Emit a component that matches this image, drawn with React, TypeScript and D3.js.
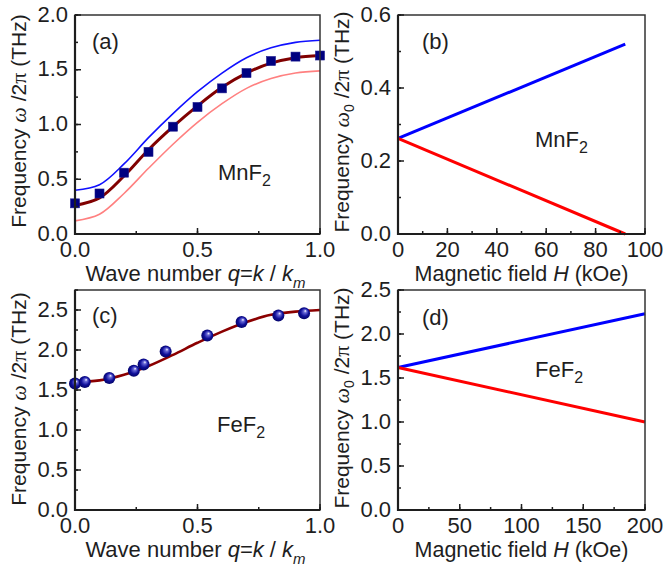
import * as d3 from "d3";

// panel (a): MnF2 dispersion
const qA = [0, 0.1, 0.2, 0.3, 0.4, 0.5, 0.6, 0.7, 0.8, 0.9, 1.0];
const mnMeasured = [0.28, 0.37, 0.56, 0.75, 0.98, 1.16, 1.33, 1.47, 1.58, 1.62, 1.63];
const mnFit = [0.26, 0.33, 0.53, 0.77, 0.98, 1.17, 1.34, 1.47, 1.56, 1.61, 1.63];
const mnUpper = [0.4, 0.45, 0.64, 0.88, 1.1, 1.3, 1.47, 1.61, 1.7, 1.75, 1.77];
const mnLower = [0.12, 0.18, 0.37, 0.6, 0.82, 1.02, 1.19, 1.33, 1.42, 1.47, 1.49];

// panel (b): MnF2 field splitting
const hB = [0, 92];
const mnPlus = [0.262, 0.52];
const mnMinus = [0.262, 0.0];

// panel (c): FeF2 dispersion
const qC = [0.0, 0.04, 0.14, 0.24, 0.28, 0.37, 0.54, 0.68, 0.83, 0.935];
const feMeasured = [1.58, 1.6, 1.65, 1.74, 1.82, 1.98, 2.18, 2.35, 2.43, 2.46];
const qFit = [0, 0.1, 0.2, 0.3, 0.4, 0.5, 0.6, 0.7, 0.8, 0.9, 1.0];
const feFit = [1.6, 1.62, 1.69, 1.8, 1.94, 2.09, 2.23, 2.35, 2.44, 2.48, 2.5];

// panel (d): FeF2 field splitting
const hD = [0, 200];
const fePlus = [1.62, 2.23];
const feMinus = [1.62, 1.0];

const FONT = "Liberation Sans, Arial, sans-serif";
const SERIF = "Liberation Serif, serif";
const INK = "#1e1e1e";

type Frame = { left: number; right: number; top: number; bottom: number };

function range(a: number, b: number, s: number) {
  const out: number[] = [];
  for (let v = a; v <= b + 1e-9; v += s) out.push(+v.toFixed(6));
  return out;
}

function Axes({
  f, x, y, xMajor, xMinor, yMajor, yMinor, xFmt, yFmt,
}: {
  f: Frame;
  x: d3.ScaleLinear<number, number>;
  y: d3.ScaleLinear<number, number>;
  xMajor: number[]; xMinor: number[]; yMajor: number[]; yMinor: number[];
  xFmt: (v: number) => string; yFmt: (v: number) => string;
}) {
  return (
    <g>
      <rect x={f.left} y={f.top} width={f.right - f.left} height={f.bottom - f.top}
        fill="none" stroke="#333" strokeWidth={1.5} />
      {xMinor.map((v) => (
        <line key={"xm" + v} x1={x(v)} x2={x(v)} y1={f.bottom} y2={f.bottom - 3} stroke={INK} strokeWidth={1.5} />
      ))}
      {xMajor.map((v) => (
        <line key={"xM" + v} x1={x(v)} x2={x(v)} y1={f.bottom} y2={f.bottom - 6} stroke={INK} strokeWidth={1.5} />
      ))}
      {yMinor.map((v) => (
        <line key={"ym" + v} x1={f.left} x2={f.left + 3} y1={y(v)} y2={y(v)} stroke={INK} strokeWidth={1.5} />
      ))}
      {yMajor.map((v) => (
        <line key={"yM" + v} x1={f.left} x2={f.left + 6} y1={y(v)} y2={y(v)} stroke={INK} strokeWidth={1.5} />
      ))}
      <line x1={f.left} x2={f.left} y1={f.top} y2={f.bottom + 1} stroke={INK} strokeWidth={2.2} />
      <line x1={f.left - 1} x2={f.right} y1={f.bottom} y2={f.bottom} stroke={INK} strokeWidth={2.2} />
      {xMajor.map((v) => (
        <text key={"xl" + v} x={x(v)} y={f.bottom + 23} textAnchor="middle" fontSize={22} fill={INK}>
          {xFmt(v)}
        </text>
      ))}
      {yMajor.map((v) => (
        <text key={"yl" + v} x={f.left - 7} y={y(v) + 6.5} textAnchor="end" fontSize={22} fill={INK}>
          {yFmt(v)}
        </text>
      ))}
    </g>
  );
}

const fmt1 = d3.format(".1f");
const fmt0 = d3.format("d");

function QTitle({ cx, y }: { cx: number; y: number }) {
  return (
    <text x={cx} y={y} textAnchor="middle" fontSize={22} fill={INK} style={{ whiteSpace: "pre" }}>
      {"Wave number "}<tspan fontStyle="italic">q</tspan>{"="}<tspan fontStyle="italic">k</tspan>{" / "}<tspan fontStyle="italic">k</tspan>
      <tspan fontStyle="italic" fontSize={15} dy={7}>m</tspan>
    </text>
  );
}

function HTitle({ cx, y }: { cx: number; y: number }) {
  return (
    <text x={cx} y={y} textAnchor="middle" fontSize={21.5} fill={INK}>
      Magnetic field <tspan fontStyle="italic">H</tspan> (kOe)
    </text>
  );
}

function FreqTitle({ x, cy, sub }: { x: number; cy: number; sub: boolean }) {
  return (
    <text transform={`translate(${x},${cy}) rotate(-90)`} textAnchor="middle" fontSize={21} fill={INK}>
      Frequency <tspan fontFamily={SERIF} fontStyle="italic" fontSize={22}>ω</tspan>
      {sub ? <tspan fontSize={14} dy={5}>0</tspan> : null}
      <tspan dy={sub ? -5 : 0}> /2</tspan>
      <tspan fontFamily={SERIF} fontSize={22}>π</tspan> (THz)
    </text>
  );
}

function Compound({ x, y, name }: { x: number; y: number; name: string }) {
  return (
    <text x={x} y={y} fontSize={22} fill={INK}>
      {name}
      <tspan fontSize={16} dy={6}>2</tspan>
    </text>
  );
}

export default function App() {
  const fA: Frame = { left: 75, right: 320, top: 15, bottom: 234 };
  const fB: Frame = { left: 398, right: 645, top: 15, bottom: 234 };
  const fC: Frame = { left: 75, right: 320, top: 290, bottom: 510 };
  const fD: Frame = { left: 398, right: 645, top: 290, bottom: 510 };

  const xA = d3.scaleLinear().domain([0, 1]).range([fA.left, fA.right]);
  const yA = d3.scaleLinear().domain([0, 2]).range([fA.bottom, fA.top]);
  const xB = d3.scaleLinear().domain([0, 100]).range([fB.left, fB.right]);
  const yB = d3.scaleLinear().domain([0, 0.6]).range([fB.bottom, fB.top]);
  const xC = d3.scaleLinear().domain([0, 1]).range([fC.left, fC.right]);
  const yC = d3.scaleLinear().domain([0, 2.75]).range([fC.bottom, fC.top]);
  const xD = d3.scaleLinear().domain([0, 200]).range([fD.left, fD.right]);
  const yD = d3.scaleLinear().domain([0, 2.5]).range([fD.bottom, fD.top]);

  const curve = (xs: number[], ys: number[], sx: any, sy: any) =>
    d3.line<number>().x((_, i) => sx(xs[i])).y((v) => sy(v)).curve(d3.curveCatmullRom.alpha(0.5))(ys) || "";
  const straight = (xs: number[], ys: number[], sx: any, sy: any) =>
    d3.line<number>().x((_, i) => sx(xs[i])).y((v) => sy(v))(ys) || "";

  return (
    <svg width={663} height={567} fontFamily={FONT}
      style={{ position: "absolute", left: 0, top: 0, display: "block", background: "#fff" }}>
      <defs>
        <radialGradient id="ball" cx="50%" cy="50%" r="55%" fx="62%" fy="30%">
          <stop offset="0%" stopColor="#ffffff" />
          <stop offset="22%" stopColor="#6a6ad8" />
          <stop offset="60%" stopColor="#10109a" />
          <stop offset="100%" stopColor="#00005e" />
        </radialGradient>
      </defs>

      {/* (a) */}
      <path d={curve(qA, mnUpper, xA, yA)} fill="none" stroke="#1010ff" strokeWidth={1.6} />
      <path d={curve(qA, mnLower, xA, yA)} fill="none" stroke="#ff8080" strokeWidth={1.6} />
      <path d={curve(qA, mnFit, xA, yA)} fill="none" stroke="#800000" strokeWidth={3} />
      {qA.map((q, i) => (
        <rect key={"sq" + i} x={xA(q) - 4.5} y={yA(mnMeasured[i]) - 4.5} width={9} height={9}
          fill="#000080" stroke="#1a1a90" strokeWidth={0.6} />
      ))}
      <Axes f={fA} x={xA} y={yA} xMajor={range(0, 1, 0.5)} xMinor={range(0, 1, 0.25)}
        yMajor={range(0, 2, 0.5)} yMinor={range(0, 2, 0.25)} xFmt={fmt1} yFmt={fmt1} />
      <text x={92} y={49} fontSize={22} fill={INK}>(a)</text>
      <Compound x={218} y={180} name="MnF" />
      <QTitle cx={(fA.left + fA.right) / 2 - 2} y={281} />
      <FreqTitle x={26} cy={121} sub={false} />

      {/* (b) */}
      <path d={straight(hB, mnPlus, xB, yB)} fill="none" stroke="#0000ff" strokeWidth={3} />
      <path d={straight(hB, mnMinus, xB, yB)} fill="none" stroke="#ff0000" strokeWidth={3} />
      <Axes f={fB} x={xB} y={yB} xMajor={range(0, 100, 20)} xMinor={range(0, 100, 10)}
        yMajor={range(0, 0.6, 0.2)} yMinor={range(0, 0.6, 0.1)} xFmt={fmt0} yFmt={fmt1} />
      <text x={422} y={49} fontSize={22} fill={INK}>(b)</text>
      <Compound x={535} y={147} name="MnF" />
      <HTitle cx={(fB.left + fB.right) / 2} y={281} />
      <FreqTitle x={349} cy={122} sub={true} />

      {/* (c) */}
      <path d={curve(qFit, feFit, xC, yC)} fill="none" stroke="#8b0000" strokeWidth={2.6} />
      {qC.map((q, i) => (
        <circle key={"c" + i} cx={xC(q)} cy={yC(feMeasured[i])} r={6} fill="url(#ball)" />
      ))}
      <Axes f={fC} x={xC} y={yC} xMajor={range(0, 1, 0.5)} xMinor={range(0, 1, 0.25)}
        yMajor={range(0, 2.5, 0.5)} yMinor={range(0, 2.75, 0.25)} xFmt={fmt1} yFmt={fmt1} />
      <text x={92} y={323} fontSize={22} fill={INK}>(c)</text>
      <Compound x={217} y={432} name="FeF" />
      <QTitle cx={(fC.left + fC.right) / 2 - 2} y={557} />
      <FreqTitle x={26} cy={399} sub={false} />

      {/* (d) */}
      <path d={straight(hD, fePlus, xD, yD)} fill="none" stroke="#0000ff" strokeWidth={3} />
      <path d={straight(hD, feMinus, xD, yD)} fill="none" stroke="#ff0000" strokeWidth={3} />
      <Axes f={fD} x={xD} y={yD} xMajor={range(0, 200, 50)} xMinor={range(0, 200, 25)}
        yMajor={range(0, 2.5, 0.5)} yMinor={range(0, 2.5, 0.25)} xFmt={fmt0} yFmt={fmt1} />
      <text x={422} y={325} fontSize={22} fill={INK}>(d)</text>
      <Compound x={535} y={377} name="FeF" />
      <HTitle cx={(fD.left + fD.right) / 2} y={557} />
      <FreqTitle x={349} cy={398} sub={true} />
    </svg>
  );
}
